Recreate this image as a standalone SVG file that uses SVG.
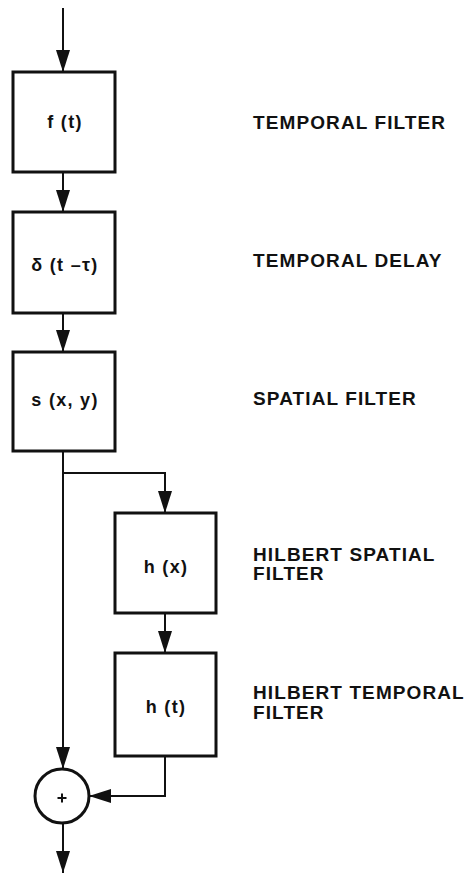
<svg xmlns="http://www.w3.org/2000/svg" width="468" height="874" viewBox="0 0 468 874">
<defs>
<marker id="ah" markerUnits="userSpaceOnUse" markerWidth="22" markerHeight="14" refX="22" refY="7" orient="auto">
<path d="M0,0 L22,7 L0,14 z" fill="#111"/>
</marker>
<style>
.box{fill:#fff;stroke:#111;stroke-width:3}
.ln{fill:none;stroke:#111;stroke-width:2;marker-end:url(#ah)}
.bt{font-family:"Liberation Sans",Arial,sans-serif;font-weight:bold;font-size:18px;letter-spacing:1.3px;fill:#111;text-anchor:middle}
.lb{font-family:"Liberation Sans",Arial,sans-serif;font-weight:bold;font-size:19px;letter-spacing:1.1px;fill:#111}
</style>
</defs>
<rect width="468" height="874" fill="#fff"/>
<g id="connectors">
<path class="ln" d="M63,8 V72"/>
<path class="ln" d="M63,172 V212"/>
<path class="ln" d="M63,313 V352"/>
<path class="ln" d="M63,451 V769"/>
<path class="ln" d="M63,473 H165 V513"/>
<path class="ln" d="M165,613 V653"/>
<path class="ln" d="M165,756 V796 H89"/>
<path class="ln" d="M63,823 V873"/>
</g>
<g id="n1">
<rect class="box" x="13" y="72" width="102" height="100"/>
<text class="bt" x="65" y="128">f (t)</text>
<text class="lb" x="253" y="129">TEMPORAL FILTER</text>
</g>
<g id="n2">
<rect class="box" x="13" y="212" width="102" height="101"/>
<text class="bt" x="65" y="271">δ (t –τ)</text>
<text class="lb" x="253" y="267">TEMPORAL DELAY</text>
</g>
<g id="n3">
<rect class="box" x="13" y="352" width="102" height="99"/>
<text class="bt" x="65" y="406">s (x, y)</text>
<text class="lb" x="253" y="405">SPATIAL FILTER</text>
</g>
<g id="n4">
<rect class="box" x="115" y="513" width="101" height="100"/>
<text class="bt" x="166" y="573">h (x)</text>
<text class="lb" x="253" y="561">HILBERT SPATIAL</text>
<text class="lb" x="253" y="580">FILTER</text>
</g>
<g id="n5">
<rect class="box" x="115" y="653" width="101" height="103"/>
<text class="bt" x="166" y="713">h (t)</text>
<text class="lb" x="253" y="699">HILBERT TEMPORAL</text>
<text class="lb" x="253" y="719">FILTER</text>
</g>
<g id="sum">
<circle cx="62" cy="796" r="27" fill="#fff" stroke="#111" stroke-width="3"/>
<path d="M57.5,798 H66.5 M62,793.5 V802.5" stroke="#111" stroke-width="2"/>
</g>
</svg>
